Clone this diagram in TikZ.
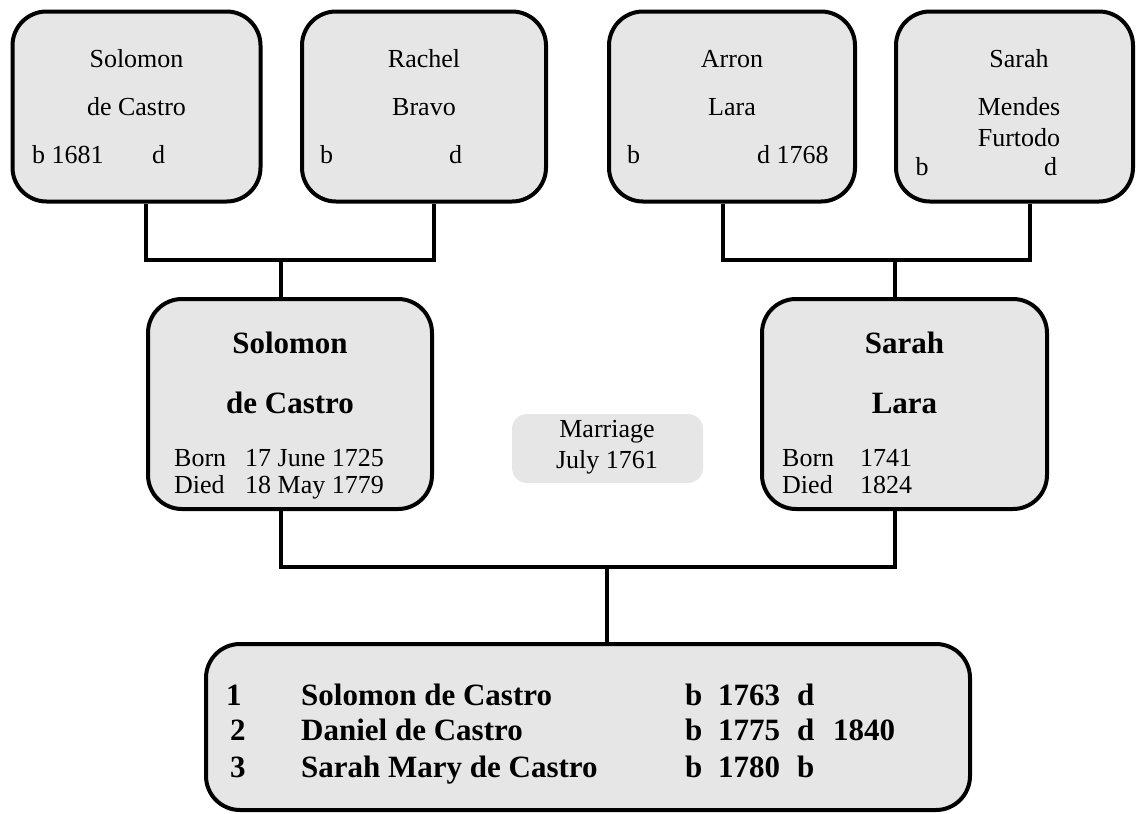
\documentclass[tikz,border=0pt]{standalone}
\usepackage{fontspec}
\setmainfont{Liberation Serif}
\definecolor{boxgray}{RGB}{230,230,230}
\begin{document}
\begin{tikzpicture}[x=1pt,y=-1pt,
  person/.style={draw=black,line width=4pt,fill=boxgray,rounded corners=34pt,
    rectangle,inner sep=0pt},
  conn/.style={draw=black,line width=4pt},
  txt/.style={inner sep=0pt,font=\fontsize{26}{30}\selectfont},
  btxt/.style={inner sep=0pt,font=\fontsize{31}{36}\selectfont\bfseries},
]
\useasboundingbox (0,0) rectangle (1138,814);

% grandparents
\node[person,minimum width=248pt,minimum height=190pt] (f1) at (136.5,106.5) {};
\node[person,minimum width=244pt,minimum height=190pt] (f2) at (424,106.5) {};
\node[person,minimum width=246pt,minimum height=190pt] (f3) at (732,106.5) {};
\node[person,minimum width=237pt,minimum height=190pt] (f4) at (1014.5,106.5) {};

% parents
\node[person,minimum width=284pt,minimum height=210pt] (m1) at (290,404) {};
\node[person,minimum width=285pt,minimum height=210pt] (m2) at (904.5,404) {};

% marriage note
\node[fill=boxgray,rounded corners=15pt,minimum width=191pt,minimum height=69pt,
  inner sep=0pt] (wed) at (607.5,448.5) {};

% children
\node[person,minimum width=764pt,minimum height=166pt] (kids) at (588,727) {};

% connectors
\coordinate (jL) at (281,260);
\coordinate (jR) at (895,260);
\coordinate (jB) at (607,567);
\draw[conn] ([xshift=9.5pt]f1.south) |- (jL) -| ([xshift=10pt]f2.south);
\draw[conn] (jL) -- (jL |- m1.north);
\draw[conn] ([xshift=-9pt]f3.south) |- (jR) -| ([xshift=15.5pt]f4.south);
\draw[conn] (jR) -- (jR |- m2.north);
\draw[conn] ([xshift=-9pt]m1.south) |- (jB) -| ([xshift=-9.5pt]m2.south);
\draw[conn] (jB) -- (jB |- kids.north);

% grandparent texts
\node[txt,anchor=base] (t1a) at (136.5,67) {Solomon};
\node[txt,anchor=base] (t1b) at (136.5,115) {de Castro};
\node[txt,anchor=base west] (t1c) at (32,163) {b 1681};
\node[txt,anchor=base west] (t1d) at (152,163) {d};

\node[txt,anchor=base] (t2a) at (424,67) {Rachel};
\node[txt,anchor=base] (t2b) at (424,115) {Bravo};
\node[txt,anchor=base west] (t2c) at (320,163) {b};
\node[txt,anchor=base west] (t2d) at (449,163) {d};

\node[txt,anchor=base] (t3a) at (732,67) {Arron};
\node[txt,anchor=base] (t3b) at (732,115) {Lara};
\node[txt,anchor=base west] (t3c) at (627,163) {b};
\node[txt,anchor=base west] (t3d) at (757,163) {d 1768};

\node[txt,anchor=base] (t4a) at (1019,67) {Sarah};
\node[txt,anchor=base] (t4b) at (1019,115) {Mendes};
\node[txt,anchor=base] (t4c) at (1019,146) {Furtodo};
\node[txt,anchor=base west] (t4d) at (915.5,175) {b};
\node[txt,anchor=base west] (t4e) at (1044,175) {d};

% parent texts
\node[btxt,anchor=base] (p1a) at (290,353) {Solomon};
\node[btxt,anchor=base] (p1b) at (290,413) {de Castro};
\node[txt,anchor=base west] (p1c) at (174,466) {Born};
\node[txt,anchor=base west] (p1d) at (245,466) {17 June 1725};
\node[txt,anchor=base west] (p1e) at (174,493) {Died};
\node[txt,anchor=base west] (p1f) at (245,493) {18 May 1779};

\node[btxt,anchor=base] (p2a) at (904.5,353) {Sarah};
\node[btxt,anchor=base] (p2b) at (904.5,413) {Lara};
\node[txt,anchor=base west] (p2c) at (782,466) {Born};
\node[txt,anchor=base west] (p2d) at (860,466) {1741};
\node[txt,anchor=base west] (p2e) at (782,493) {Died};
\node[txt,anchor=base west] (p2f) at (860,493) {1824};

\node[txt,anchor=base] (w1) at (607,437) {Marriage};
\node[txt,anchor=base] (w2) at (607,468) {July 1761};

% children texts
\node[btxt,anchor=base west] (k1n) at (226,705) {1};
\node[btxt,anchor=base west] (k1a) at (301,705) {Solomon de Castro};
\node[btxt,anchor=base west] (k1b) at (685,705) {b};
\node[btxt,anchor=base west] (k1c) at (718,705) {1763};
\node[btxt,anchor=base west] (k1d) at (797,705) {d};

\node[btxt,anchor=base west] (k2n) at (230,740) {2};
\node[btxt,anchor=base west] (k2a) at (301,740) {Daniel de Castro};
\node[btxt,anchor=base west] (k2b) at (685,740) {b};
\node[btxt,anchor=base west] (k2c) at (718,740) {1775};
\node[btxt,anchor=base west] (k2d) at (797,740) {d};
\node[btxt,anchor=base west] (k2e) at (833,740) {1840};

\node[btxt,anchor=base west] (k3n) at (230,777) {3};
\node[btxt,anchor=base west] (k3a) at (301,777) {Sarah Mary de Castro};
\node[btxt,anchor=base west] (k3b) at (685,777) {b};
\node[btxt,anchor=base west] (k3c) at (718,777) {1780};
\node[btxt,anchor=base west] (k3d) at (797,777) {b};
\end{tikzpicture}
\end{document}
